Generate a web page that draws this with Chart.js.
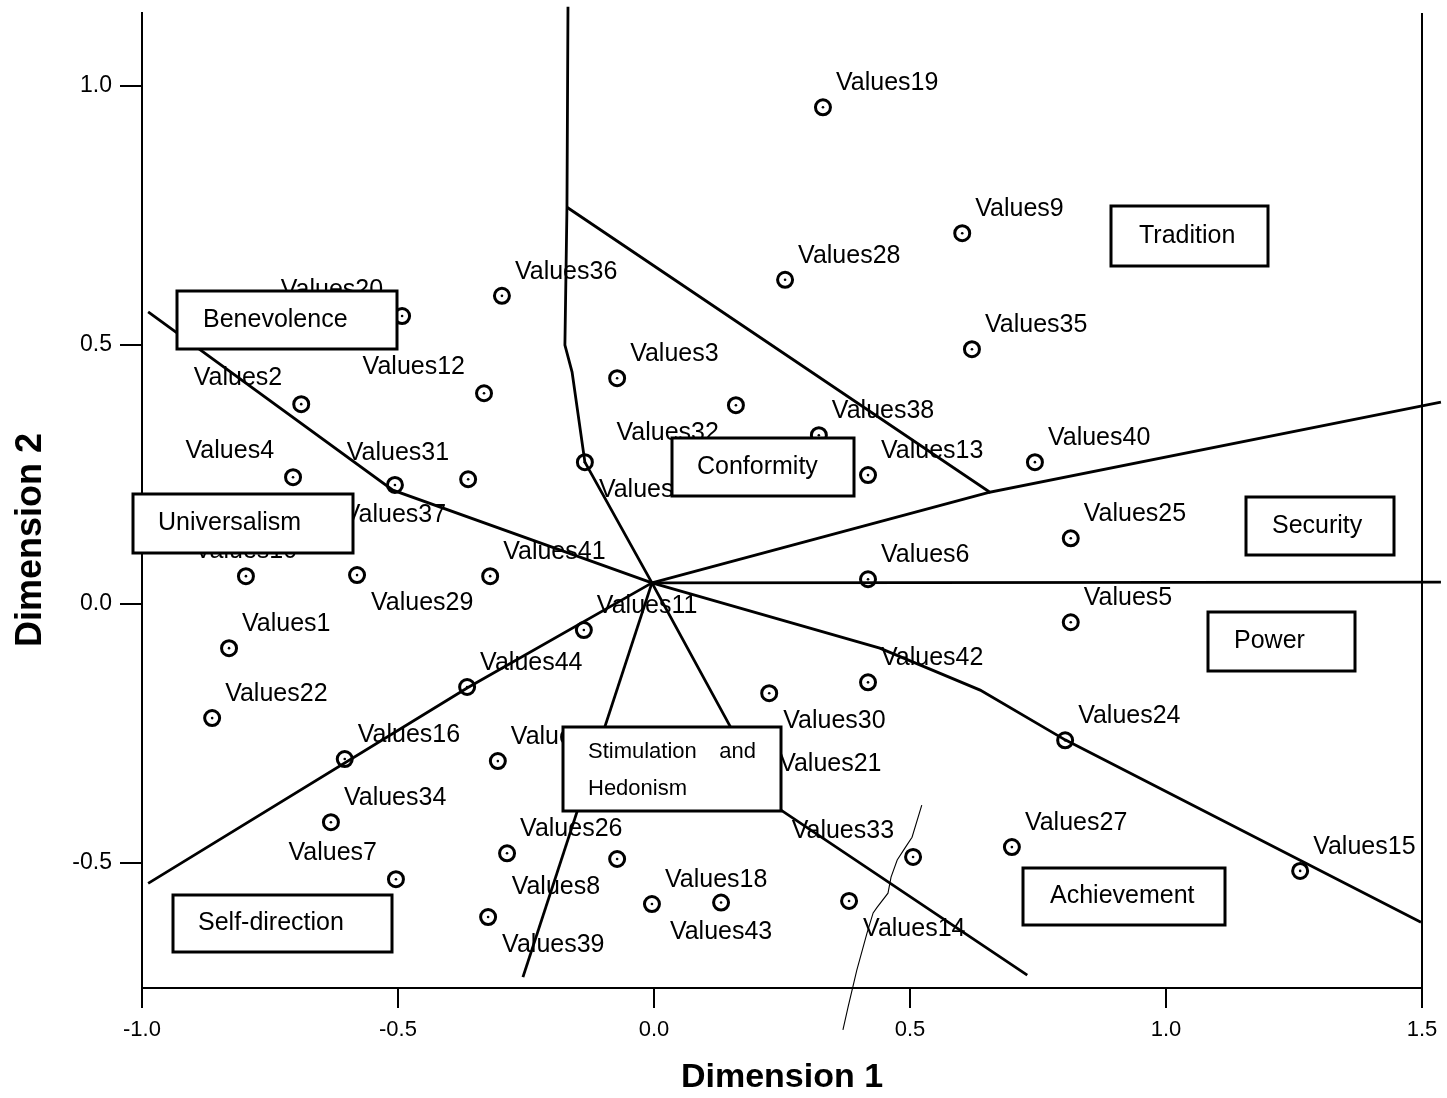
<!DOCTYPE html>
<html>
<head>
<meta charset="utf-8">
<script src="https://cdn.jsdelivr.net/npm/chart.js@4.4.1/dist/chart.umd.min.js"></script>
<style>
html,body{margin:0;padding:0;background:#fff;}
canvas{display:block;}
</style>
</head>
<body>
<canvas id="c" width="1447" height="1098"></canvas>
<script>
// ---------- data ----------
const valueLabels = ['Values1','Values2','Values3','Values4','Values5','Values6','Values7','Values8','Values9','Values10',
  'Values11','Values12','Values13','Values14','Values15','Values16','Values17','Values18','Values19','Values20',
  'Values21','Values22','Values23','Values24','Values25','Values26','Values27','Values28','Values29','Values30',
  'Values31','Values32','Values33','Values34','Values35','Values36','Values37','Values38','Values39','Values40',
  'Values41','Values42','Values43','Values44'];
const dim1 = [-0.830,-0.689,-0.072,-0.705,0.814,0.418,-0.504,-0.072,0.602,-0.797,
  -0.137,-0.332,0.418,0.381,1.262,-0.604,-0.305,-0.004,0.330,-0.492,
  0.219,-0.863,-0.135,0.803,0.814,-0.287,0.699,0.256,-0.580,0.225,
  -0.363,0.160,0.506,-0.631,0.621,-0.297,-0.506,0.322,-0.324,0.744,
  -0.320,0.418,0.131,-0.365];
const dim2 = [-0.086,0.385,0.435,0.244,-0.036,0.047,-0.532,-0.493,0.715,0.053,
  -0.051,0.406,0.248,-0.574,-0.516,-0.300,-0.304,-0.580,0.958,0.555,
  -0.356,-0.221,0.273,-0.264,0.126,-0.482,-0.470,0.625,0.055,-0.173,
  0.240,0.383,-0.489,-0.422,0.491,0.594,0.229,0.325,-0.605,0.273,
  0.053,-0.152,-0.577,-0.161];

const regionNames = ['Benevolence','Universalism','Self-direction','Tradition','Conformity',
  'Security','Power','Achievement','Stimulation and Hedonism'];

const xTicks = [-1.0,-0.5,0.0,0.5,1.0,1.5];
const yTicks = [-0.5,0.0,0.5,1.0];

// region partition lines (data space)
const lineBenevConform = [[-0.168,1.152],[-0.170,0.765],[-0.174,0.499],[-0.160,0.447],[-0.135,0.273],[-0.004,0.040]];
const lineTraditionSecurity = [[-0.170,0.765],[0.656,0.215],[1.537,0.389]];
const lineConformSecurity = [[-0.004,0.040],[0.656,0.215]];
const lineSecurityPower = [[-0.004,0.040],[1.537,0.0415]];
const linePowerAchieve = [[-0.004,0.040],[0.441,-0.086],[0.637,-0.167],[0.803,-0.263],[1.498,-0.615]];
const lineStimSelf = [[-0.004,0.040],[-0.256,-0.721]];
const lineStimAchieve = [[-0.004,0.040],[0.232,-0.388],[0.729,-0.717]];
const lineSelfUniv = [[-0.988,-0.540],[-0.365,-0.163],[-0.004,0.040]];
const lineUnivBenev = [[-0.988,0.563],[-0.510,0.219],[-0.004,0.040]];
const thinStroke = [[0.523,-0.389],[0.504,-0.451],[0.490,-0.472],[0.475,-0.495],[0.463,-0.528],[0.457,-0.559],
  [0.436,-0.586],[0.428,-0.597],[0.416,-0.636],[0.396,-0.708],[0.379,-0.779],[0.369,-0.823]];

// ---------- layout / style (kept separate from data) ----------
const labelPlacement = ['UR','UL','UR','UL','UR','UR','UL','LL','UR','A',
  'UR','UL','UR','LR','UR','UR','UR','UR','UR','UL',
  'UR','UR','LR','UR','UR','UR','UR','UR','LR','LR',
  'UL','LL','UL','UR','UR','UR','B','UR','LR','UR',
  'UR','UR','B','UR'];
const placements = {
  UR:{align:'left',dx:13,dy:-24}, UL:{align:'right',dx:-19,dy:-26},
  LR:{align:'left',dx:14,dy:28},  LL:{align:'right',dx:-17,dy:28},
  A:{align:'center',dx:0,dy:-25}, B:{align:'center',dx:0,dy:30}
};
// boxes in data coordinates [x1, x2, yTop, yBottom]
const regionBoxes = [
  [-0.932,-0.502,0.603,0.491],
  [-1.018,-0.588,0.211,0.098],
  [-0.939,-0.512,-0.563,-0.673],
  [0.893,1.199,0.767,0.652],
  [0.035,0.391,0.320,0.208],
  [1.156,1.445,0.206,0.094],
  [1.082,1.369,-0.016,-0.130],
  [0.721,1.115,-0.511,-0.621],
  [-0.178,0.248,-0.238,-0.400]
];
const boxTextPad = [26,25,25,28,25,26,26,27,25];

const FONT = '"Liberation Sans", Arial, Helvetica, sans-serif';
Chart.defaults.font.family = FONT;
Chart.defaults.color = '#000';

const toXY = arr => arr.map(p => ({x:p[0], y:p[1]}));
const lineDs = (arr, extra) => Object.assign({
  type:'scatter', data: toXY(arr), showLine:true, pointRadius:0, borderColor:'#000',
  borderWidth:2.8, fill:false, clip:false, tension:0
}, extra||{});

const pts = dim1.map((v,i)=>({x:v, y:dim2[i]}));

const annot = {
  id:'annot',
  afterDatasetsDraw(chart){
    const {ctx, scales:{x, y}} = chart;
    ctx.save();
    ctx.fillStyle = '#000';
    ctx.font = '25px ' + FONT;
    ctx.textBaseline = 'middle';
    valueLabels.forEach((t,i)=>{
      const px = x.getPixelForValue(dim1[i]);
      const py = y.getPixelForValue(dim2[i]);
      const o = placements[labelPlacement[i]];
      ctx.textAlign = o.align;
      ctx.fillText(t, px+o.dx, py+o.dy);
    });
    regionNames.forEach((name,i)=>{
      const b = regionBoxes[i];
      const x1 = Math.round(x.getPixelForValue(b[0])), x2 = Math.round(x.getPixelForValue(b[1]));
      const y1 = Math.round(y.getPixelForValue(b[2])), y2 = Math.round(y.getPixelForValue(b[3]));
      ctx.fillStyle = '#fff';
      ctx.fillRect(x1,y1,x2-x1,y2-y1);
      ctx.lineWidth = 3; ctx.strokeStyle = '#000';
      ctx.strokeRect(x1,y1,x2-x1,y2-y1);
      ctx.fillStyle = '#000';
      ctx.textBaseline = 'middle';
      if (name === 'Stimulation and Hedonism') {
        ctx.font = '22px ' + FONT;
        const parts = name.split(' ');
        ctx.textAlign = 'left';
        ctx.fillText(parts[0], x1+boxTextPad[i], y1+25);
        ctx.textAlign = 'right';
        ctx.fillText(parts[1], x2-25, y1+25);
        ctx.textAlign = 'left';
        ctx.fillText(parts[2], x1+boxTextPad[i], y1+62);
      } else {
        ctx.font = '25px ' + FONT;
        ctx.textAlign = 'left';
        ctx.fillText(name, x1+boxTextPad[i], (y1+y2)/2);
      }
    });
    // axis titles
    ctx.font = 'bold 34px ' + FONT;
    ctx.textAlign = 'center';
    ctx.textBaseline = 'middle';
    ctx.fillText('Dimension 1', (chart.chartArea.left+chart.chartArea.right)/2, 1078);
    ctx.translate(31, 540);
    ctx.rotate(-Math.PI/2);
    ctx.font = 'bold 36px ' + FONT;
    ctx.fillText('Dimension 2', 0, 0);
    ctx.restore();
  }
};

new Chart(document.getElementById('c'), {
  type:'scatter',
  data:{
    datasets:[
      lineDs(lineBenevConform),
      lineDs(lineTraditionSecurity),
      lineDs(lineConformSecurity),
      lineDs(lineSecurityPower),
      lineDs(linePowerAchieve),
      lineDs(lineStimSelf),
      lineDs(lineStimAchieve),
      lineDs(lineSelfUniv),
      lineDs(lineUnivBenev),
      lineDs(thinStroke,{borderWidth:1.1}),
      {type:'scatter', data:pts, pointRadius:7.5, pointBorderWidth:3, borderColor:'#000',
        pointBackgroundColor:'rgba(0,0,0,0)', backgroundColor:'rgba(0,0,0,0)', showLine:false},
      {type:'scatter', data:pts, pointRadius:1.3, pointBorderWidth:0, pointBackgroundColor:'#000',
        backgroundColor:'#000', borderColor:'#000', showLine:false}
    ]
  },
  options:{
    responsive:false,
    animation:false,
    events:[],
    layout:{padding:{top:13,right:25,left:0,bottom:0}},
    plugins:{legend:{display:false}, tooltip:{enabled:false}},
    scales:{
      x:{
        type:'linear', min:-1.0, max:1.5,
        afterBuildTicks: s => { s.ticks = xTicks.map(v=>({value:v})); },
        afterFit: s => { s.height = 110; },
        border:{display:true, color:'#000', width:2},
        grid:{display:true, drawOnChartArea:true, drawTicks:true, tickLength:20, lineWidth:2,
          tickColor:'#000', color: c => (c.tick && c.tick.value === 1.5) ? '#000' : 'rgba(0,0,0,0)'},
        ticks:{font:{size:22}, color:'#000', padding:9, maxRotation:0, callback:v=>Number(v).toFixed(1)},
        title:{display:false}
      },
      y:{
        type:'linear', min:-0.742, max:1.14,
        afterBuildTicks: s => { s.ticks = yTicks.map(v=>({value:v})); },
        afterFit: s => { s.width = 142; s.paddingTop = 0; s.paddingBottom = 0; },
        border:{display:true, color:'#000', width:2},
        grid:{display:true, drawOnChartArea:false, drawTicks:true, tickLength:22, lineWidth:2, tickColor:'#000'},
        ticks:{font:{size:23}, color:'#000', padding:8, callback:v=>Number(v).toFixed(1)},
        title:{display:false}
      }
    }
  },
  plugins:[annot]
});
</script>
</body>
</html>
